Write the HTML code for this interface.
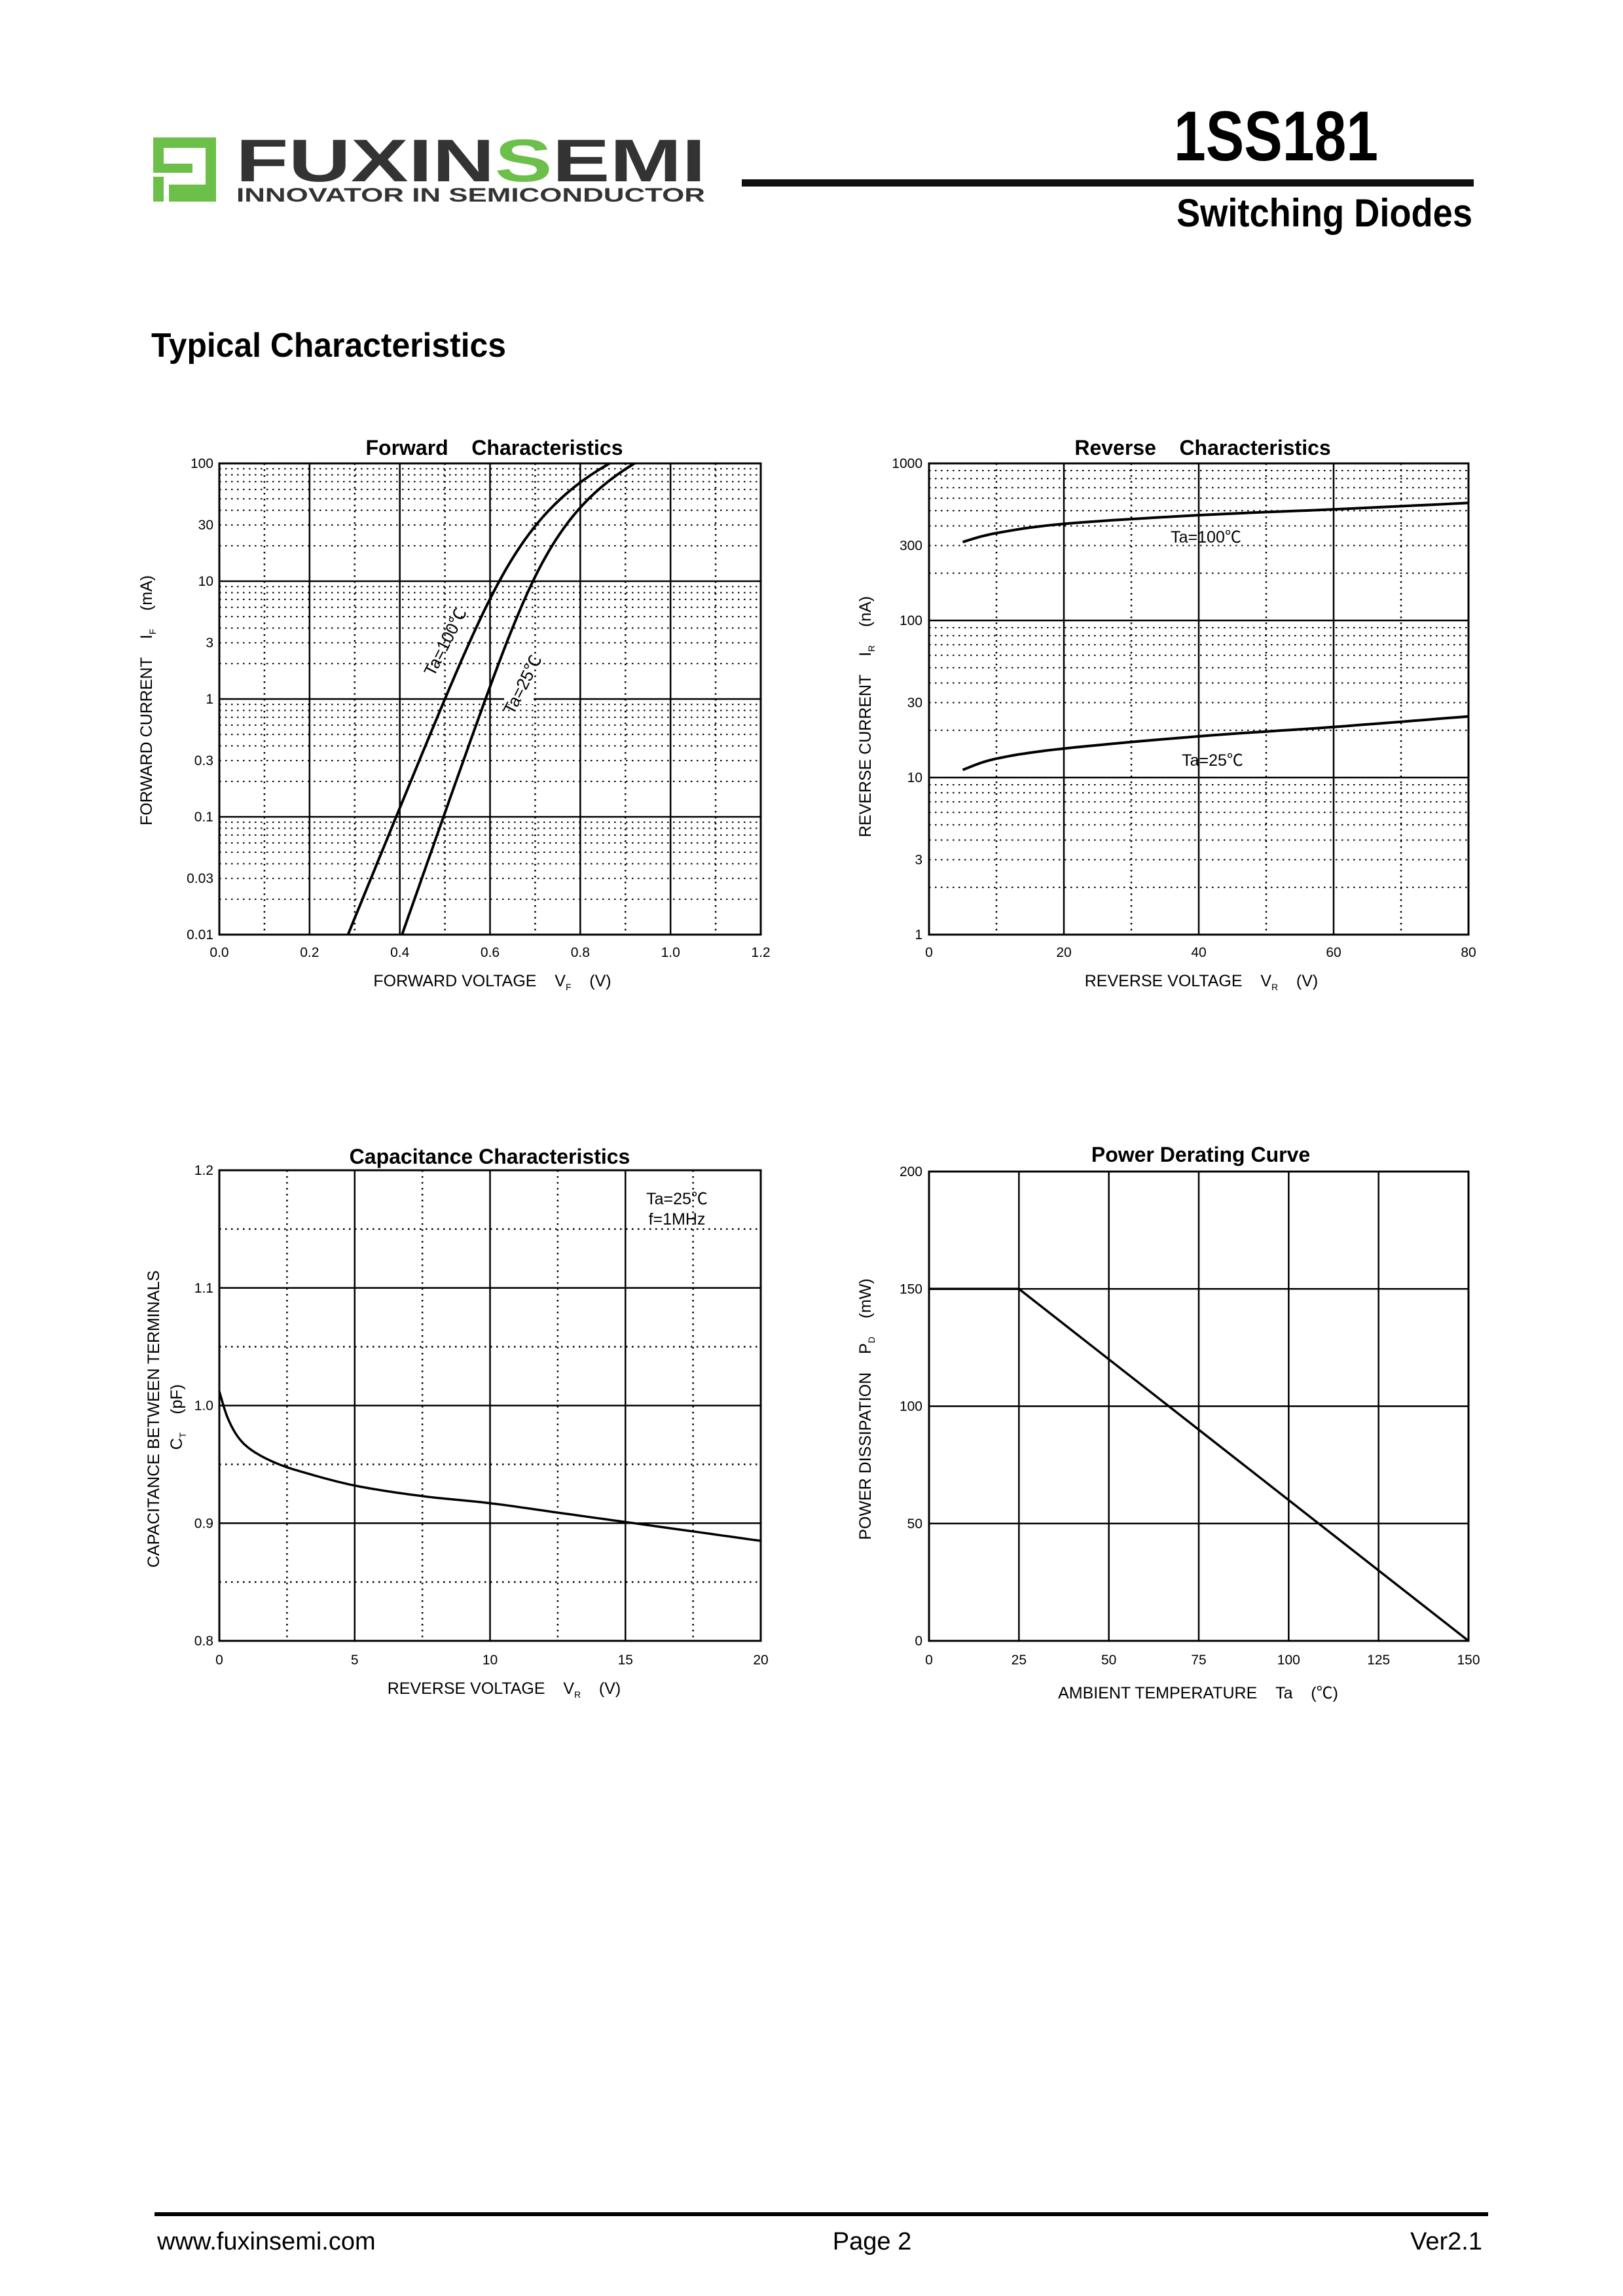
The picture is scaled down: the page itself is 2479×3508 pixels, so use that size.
<!DOCTYPE html>
<html><head><meta charset="utf-8"><style>
html,body{margin:0;padding:0;background:#fff}
svg{display:block}
text{font-family:"Liberation Sans","Noto Sans CJK SC",sans-serif;fill:#000}
</style></head><body>
<svg id="s" width="2479" height="3508" viewBox="0 0 2479 3508" xmlns="http://www.w3.org/2000/svg">
<!-- logo -->
<g fill="#6cc04a">
<rect x="234" y="210" width="96" height="16"/>
<rect x="234" y="210" width="16" height="50"/>
<rect x="234" y="250" width="60" height="14"/>
<rect x="314" y="210" width="16" height="98"/>
<rect x="258" y="282" width="72" height="26"/>
<rect x="234" y="270" width="16" height="38"/>
</g>
<text x="360" y="277" font-size="92" font-weight="bold" textLength="718" lengthAdjust="spacingAndGlyphs" style="fill:#333">FUXIN<tspan style="fill:#6cc04a">S</tspan>EMI</text>
<text x="361" y="308" font-size="30" font-weight="bold" textLength="716" lengthAdjust="spacingAndGlyphs" style="fill:#333">INNOVATOR IN SEMICONDUCTOR</text>
<text x="2105" y="245" font-size="108" font-weight="bold" text-anchor="end" textLength="312" lengthAdjust="spacingAndGlyphs">1SS181</text>
<rect x="1133" y="274" width="1118" height="11" fill="#111"/>
<text x="2249" y="346" font-size="60" font-weight="bold" text-anchor="end" textLength="452" lengthAdjust="spacingAndGlyphs">Switching  Diodes</text>
<text x="231" y="545" font-size="52" font-weight="bold" textLength="542" lengthAdjust="spacingAndGlyphs">Typical Characteristics</text>
<!-- footer -->
<rect x="236" y="3380" width="2037" height="6" fill="#000"/>
<text x="240" y="3437" font-size="38">www.fuxinsemi.com</text>
<text x="1332" y="3437" font-size="38" text-anchor="middle">Page 2</text>
<text x="2264" y="3437" font-size="38" text-anchor="end">Ver2.1</text>
<g id="g"></g>
</svg>
<script>
var g=document.getElementById('g'),h='';
function L(x1,y1,x2,y2,w,dot){h+='<line x1="'+x1+'" y1="'+y1+'" x2="'+x2+'" y2="'+y2+'" stroke="#000" stroke-width="'+w+'"'+(dot?' stroke-dasharray="2.5,6.5"':'')+'/>';}
function T(x,y,s,fs,anc,extra){h+='<text x="'+x+'" y="'+y+'" font-size="'+fs+'" text-anchor="'+(anc||'middle')+'" '+(extra||'')+'>'+s+'</text>';}
function P(pts,w){h+='<polyline fill="none" stroke="#000" stroke-width="'+(w||4)+'" stroke-linejoin="round" points="'+pts.map(function(p){return p[0].toFixed(1)+','+p[1].toFixed(1)}).join(' ')+'"/>';}
function lg(v){return Math.log(v)/Math.LN10;}
function smooth(pts){var o=[];for(var i=0;i<pts.length-1;i++){var p0=pts[i-1]||pts[i],p1=pts[i],p2=pts[i+1],p3=pts[i+2]||p2;for(var t=0;t<1;t+=0.1){var t2=t*t,t3=t2*t;o.push([0.5*((2*p1[0])+(-p0[0]+p2[0])*t+(2*p0[0]-5*p1[0]+4*p2[0]-p3[0])*t2+(-p0[0]+3*p1[0]-3*p2[0]+p3[0])*t3),0.5*((2*p1[1])+(-p0[1]+p2[1])*t+(2*p0[1]-5*p1[1]+4*p2[1]-p3[1])*t2+(-p0[1]+3*p1[1]-3*p2[1]+p3[1])*t3)]);}}o.push(pts[pts.length-1]);return o;}
var FS=21;
// ---------- Forward ----------
(function(){var x0=335,x1=1162,y0=708,y1=1428;
function X(v){return x0+v/1.2*(x1-x0)}function Y(i){return y1-(lg(i)+2)/4*(y1-y0)}
for(var d=-2;d<2;d++){for(var k=2;k<=9;k++)L(x0,Y(k*Math.pow(10,d)),x1,Y(k*Math.pow(10,d)),2,1);}
for(var d=-1;d<2;d++)L(x0,Y(Math.pow(10,d)),x1,Y(Math.pow(10,d)),2.5);
for(var v=0.1;v<1.2;v+=0.2)L(X(v),y0,X(v),y1,2.5,1);
for(var v=0.2;v<1.19;v+=0.2)L(X(v),y0,X(v),y1,2.5);
h+='<rect x="'+x0+'" y="'+y0+'" width="'+(x1-x0)+'" height="'+(y1-y0)+'" fill="none" stroke="#000" stroke-width="3"/>';
var yl=[[100,'100'],[30,'30'],[10,'10'],[3,'3'],[1,'1'],[0.3,'0.3'],[0.1,'0.1'],[0.03,'0.03'],[0.01,'0.01']];
yl.forEach(function(a){T(326,Y(a[0])+7,a[1],FS,'end')});
['0.0','0.2','0.4','0.6','0.8','1.0','1.2'].forEach(function(s,i){T(X(i*0.2),1462,s,FS)});
function curve(a,b,r){var o=[];for(var e=-2;e<=2.0001;e+=0.05){var I=Math.pow(10,e);o.push([X(a+b*e+r*I),Y(I)]);}return o;}
P(curve(0.4985,0.1067,0.00153));
P(curve(0.5885,0.0918,0.00148));
h+='<rect x="770" y="1062" width="45" height="14" fill="#fff"/>';
T(0,0,'Ta=100℃',26,'middle','transform="translate(688,985) rotate(-63)"');
T(0,0,'Ta=25℃',26,'middle','transform="translate(806,1050) rotate(-63)"');
T(755,695,'Forward&#160;&#160;&#160;&#160;Characteristics',32,'middle','font-weight="bold"');
T(752,1507,'FORWARD VOLTAGE&#160;&#160;&#160;&#160;V<tspan font-size="14" dy="6">F</tspan><tspan dy="-6">&#160;&#160;&#160;&#160;(V)</tspan>',25);
T(0,0,'FORWARD CURRENT&#160;&#160;&#160;&#160;I<tspan font-size="14" dy="6">F</tspan><tspan dy="-6">&#160;&#160;&#160;&#160;(mA)</tspan>',25,'middle','transform="translate(232,1070) rotate(-90)"');
})();
// ---------- Reverse ----------
(function(){var x0=1419,x1=2243,y0=708,y1=1428;
function X(v){return x0+v/80*(x1-x0)}function Y(i){return y1-lg(i)/3*(y1-y0)}
for(var d=0;d<3;d++){for(var k=2;k<=9;k++)L(x0,Y(k*Math.pow(10,d)),x1,Y(k*Math.pow(10,d)),2,1);}
for(var d=1;d<3;d++)L(x0,Y(Math.pow(10,d)),x1,Y(Math.pow(10,d)),2.5);
[10,30,50,70].forEach(function(v){L(X(v),y0,X(v),y1,2.5,1)});
[20,40,60].forEach(function(v){L(X(v),y0,X(v),y1,2.5)});
h+='<rect x="'+x0+'" y="'+y0+'" width="'+(x1-x0)+'" height="'+(y1-y0)+'" fill="none" stroke="#000" stroke-width="3"/>';
[[1000,'1000'],[300,'300'],[100,'100'],[30,'30'],[10,'10'],[3,'3'],[1,'1']].forEach(function(a){T(1409,Y(a[0])+7,a[1],FS,'end')});
[0,20,40,60,80].forEach(function(v){T(X(v),1462,v,FS)});
var a=[[5,316],[10,360],[20,412],[40,468],[60,510],[80,560]];
var b=[[5,11.2],[10,13.2],[20,15.3],[40,18.3],[60,21],[80,24.5]];
P(smooth(a.map(function(p){return[X(p[0]),Y(p[1])]})));P(smooth(b.map(function(p){return[X(p[0]),Y(p[1])]})));
T(1842,829,'Ta=100℃',25);T(1852,1170,'Ta=25℃',25);
T(1837,695,'Reverse&#160;&#160;&#160;&#160;Characteristics',32,'middle','font-weight="bold"');
T(1835,1507,'REVERSE VOLTAGE&#160;&#160;&#160;&#160;V<tspan font-size="14" dy="6">R</tspan><tspan dy="-6">&#160;&#160;&#160;&#160;(V)</tspan>',25);
T(0,0,'REVERSE CURRENT&#160;&#160;&#160;&#160;I<tspan font-size="14" dy="6">R</tspan><tspan dy="-6">&#160;&#160;&#160;&#160;(nA)</tspan>',25,'middle','transform="translate(1330,1095) rotate(-90)"');
})();
// ---------- Capacitance ----------
(function(){var x0=335,x1=1162,y0=1788,y1=2507;
function X(v){return x0+v/20*(x1-x0)}function Y(c){return y1-(c-0.8)/0.4*(y1-y0)}
[0.85,0.95,1.05,1.15].forEach(function(c){L(x0,Y(c),x1,Y(c),2.5,1)});
[0.9,1.0,1.1].forEach(function(c){L(x0,Y(c),x1,Y(c),2.5)});
[2.5,7.5,12.5,17.5].forEach(function(v){L(X(v),y0,X(v),y1,2.5,1)});
[5,10,15].forEach(function(v){L(X(v),y0,X(v),y1,2.5)});
h+='<rect x="'+x0+'" y="'+y0+'" width="'+(x1-x0)+'" height="'+(y1-y0)+'" fill="none" stroke="#000" stroke-width="3"/>';
['0.8','0.9','1.0','1.1','1.2'].forEach(function(s,i){T(326,Y(0.8+i*0.1)+7,s,FS,'end')});
[0,5,10,15,20].forEach(function(v){T(X(v),2543,v,FS)});
var a=[[0,1.012],[0.3,0.99],[0.7,0.973],[1.2,0.962],[2,0.952],[3,0.944],[5,0.932],[7.5,0.923],[10,0.917],[12.5,0.909],[15,0.901],[17.5,0.893],[20,0.885]];
P(smooth(a.map(function(p){return[X(p[0]),Y(p[1])]})),3.5);
T(1034,1840,'Ta=25℃',25);T(1034,1871,'f=1MHz',25);
T(748,1778,'Capacitance Characteristics',32,'middle','font-weight="bold"');
T(770,2588,'REVERSE VOLTAGE&#160;&#160;&#160;&#160;V<tspan font-size="14" dy="6">R</tspan><tspan dy="-6">&#160;&#160;&#160;&#160;(V)</tspan>',25);
T(0,0,'CAPACITANCE BETWEEN TERMINALS',25,'middle','transform="translate(243,2168) rotate(-90)"');
T(0,0,'C<tspan font-size="14" dy="6">T</tspan><tspan dy="-6">&#160;&#160;&#160;&#160;(pF)</tspan>',25,'middle','transform="translate(278,2165) rotate(-90)"');
})();
// ---------- Power ----------
(function(){var x0=1419,x1=2243,y0=1790,y1=2507;
function X(v){return x0+v/150*(x1-x0)}function Y(p){return y1-p/200*(y1-y0)}
[50,100,150].forEach(function(c){L(x0,Y(c),x1,Y(c),2.5)});
[25,50,75,100,125].forEach(function(v){L(X(v),y0,X(v),y1,2.5)});
h+='<rect x="'+x0+'" y="'+y0+'" width="'+(x1-x0)+'" height="'+(y1-y0)+'" fill="none" stroke="#000" stroke-width="3"/>';
[0,50,100,150,200].forEach(function(v){T(1409,Y(v)+7,v,FS,'end')});
[0,25,50,75,100,125,150].forEach(function(v){T(X(v),2543,v,FS)});
P([[X(0),Y(150)],[X(25),Y(150)],[X(150),Y(0)]],3.5);
T(1834,1775,'Power Derating Curve',32,'middle','font-weight="bold"');
T(1830,2595,'AMBIENT TEMPERATURE&#160;&#160;&#160;&#160;Ta&#160;&#160;&#160;&#160;(℃)',25);
T(0,0,'POWER DISSIPATION&#160;&#160;&#160;&#160;P<tspan font-size="14" dy="6">D</tspan><tspan dy="-6">&#160;&#160;&#160;&#160;(mW)</tspan>',25,'middle','transform="translate(1330,2153) rotate(-90)"');
})();
g.innerHTML=h;
</script>
</body></html>
